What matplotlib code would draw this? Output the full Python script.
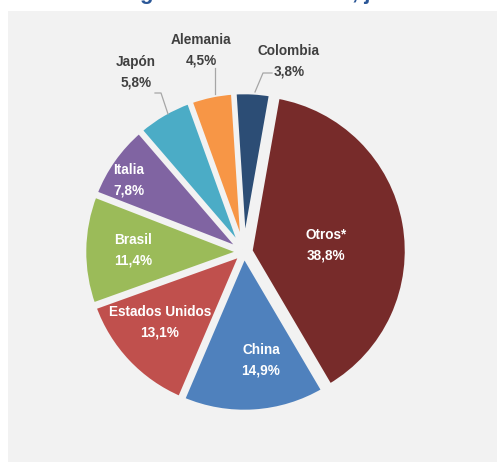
import matplotlib
matplotlib.use('Agg')
from matplotlib import pyplot as plt
from matplotlib import font_manager
from matplotlib.patches import Rectangle

# Data
countries = ['Otros*', 'China', 'Estados Unidos', 'Brasil', 'Italia', 'Japón', 'Alemania', 'Colombia']
shares = [38.8, 14.9, 13.1, 11.4, 7.8, 5.8, 4.5, 3.8]
share_labels = ['38,8%', '14,9%', '13,1%', '11,4%', '7,8%', '5,8%', '4,5%', '3,8%']
colors = ['#772b2a', '#4f81bd', '#c0504d', '#9bbb59', '#8064a2', '#4bacc6', '#f79646', '#2c4d75']
explode = [0.04, 0.02, 0.02, 0.02, 0.02, 0.02, 0.02, 0.02]

W, H = 497, 462
CX, CY, R = 244, 252, 157   # pie centre / radius in pixels

def px(x, y):
    '''pixel (from top-left) -> data coords'''
    return (x - CX) / R, (CY - y) / R

names = {f.name for f in font_manager.fontManager.ttflist}
font = [f for f in ['Liberation Sans Narrow', 'DejaVu Sans Condensed', 'Liberation Sans'] if f in names]
font = font[:1] + ['DejaVu Sans']

fig = plt.figure(figsize=(W / 100, H / 100), dpi=100)
fig.patch.set_facecolor('white')
fig.patches.append(Rectangle((8 / W, 0), 1, (H - 11) / H, transform=fig.transFigure,
                             facecolor='#f2f2f2', edgecolor='none', zorder=-5))

ax = fig.add_axes([0, 0, 1, 1])
ax.pie(shares, colors=colors, explode=explode, startangle=80, counterclock=False,
       radius=1, wedgeprops=dict(edgecolor='#f2f2f2', linewidth=3.5))
ax.set_xlim(-CX / R, (W - CX) / R)
ax.set_ylim((CY - H) / R, CY / R)
ax.set_aspect('auto')
ax.axis('off')

fs = 10.5 if 'Narrow' in font[0] or 'Condensed' in font[0] else 9.8

# label positions (pixel coords of text centre)
inside = {'Otros*': (326, 245), 'China': (261, 360), 'Estados Unidos': (160, 322),
          'Brasil': (133, 250), 'Italia': (129, 180)}
outside = {'Japón': (136, 72), 'Alemania': (201, 50), 'Colombia': (289, 61)}

for name, lab in zip(countries, share_labels):
    if name in inside:
        x, y = px(*inside[name])
        ax.text(x, y, f'{name}\n{lab}', ha='center', va='center', color='white',
                fontsize=fs, fontweight='bold', family=font, linespacing=1.55)
    else:
        x, y = px(*outside[name])
        ax.text(x, y, f'{name}\n{lab}', ha='center', va='center', color='#404040',
                fontsize=fs, fontweight='bold', family=font, linespacing=1.55)

# leader lines
leaders = [
    [(155, 93), (161, 93), (168, 114)],
    [(215, 68), (215, 94)],
    [(272, 73), (263, 73), (255, 92)],
]
for pts in leaders:
    xs, ys = zip(*[px(*p) for p in pts])
    ax.plot(xs, ys, color='#a6a6a6', linewidth=0.9)

# title fragments (cut off at top of the picture)
fig.text(146 / W, 1 + 1 / H, 'g', ha='center', va='baseline', color='#2b5797',
         fontsize=16, fontweight='bold', family=font)
fig.text(352 / W, 1 + 1 / H, ', j', ha='left', va='baseline', color='#2b5797',
         fontsize=16, fontweight='bold', family=font)

fig.savefig('out.png', dpi=100, facecolor=fig.get_facecolor())
